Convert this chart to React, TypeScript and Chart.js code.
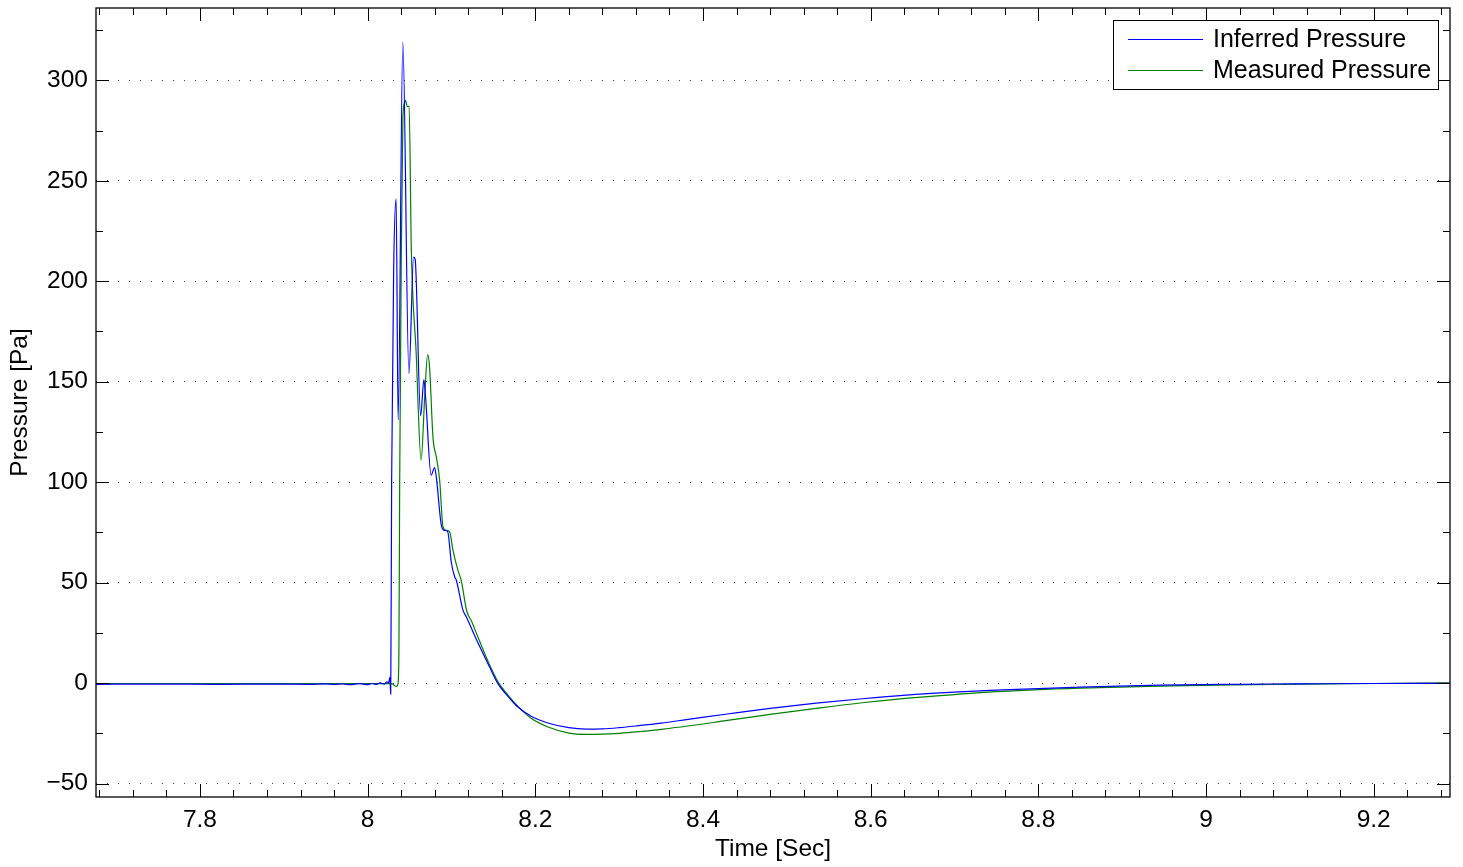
import React, { useEffect, useRef } from 'react';
import { Chart, registerables } from 'chart.js';

Chart.register(...registerables);

// ---- Data (time in seconds, pressure in Pa) ----
const inferredTime = [
  7.676, 7.75, 7.82, 7.89, 7.93, 7.95, 7.96, 7.97, 7.98, 7.99, 8.0, 8.005, 8.01, 8.015, 8.02, 8.023, 8.025,
  8.0265, 8.02755, 8.02862, 8.03101, 8.03399, 8.03637, 8.04198, 8.04925, 8.05486, 8.05665, 8.06321, 8.06714,
  8.06917, 8.07573, 8.0799, 8.08189, 8.08789, 8.09147, 8.09545, 8.09982, 8.10379, 8.10578, 8.11369, 8.11766,
  8.13, 8.1455, 8.155, 8.1693, 8.1789, 8.195, 8.216, 8.24, 8.26, 8.28, 8.3, 8.323, 8.35, 8.38, 8.429, 8.48,
  8.535, 8.59, 8.642, 8.7, 8.749, 8.85, 8.945, 9.03, 9.111, 9.2, 9.291,
];
const inferredPressure = [
  -0.6, -0.5, -0.6, -0.5, -0.6, -0.4, -0.7, -0.4, -0.8, -0.3, -0.8, -0.2, -0.7, 0.1, -0.5, 0.6, 0.2,
  2.8, -5.5, 100, 205, 241, 131, 319, 154, 212, 211, 133, 151,
  142, 103.5, 107.3, 102.6, 78.6, 76, 75.4, 60, 52.9, 51.2, 36.3, 33,
  21.4, 8, 0, -7.5, -11.8, -16.5, -20, -22.2, -22.9, -22.8, -22.2, -21.2, -19.9, -18.2, -15.4, -12.6,
  -10, -7.8, -6, -4.5, -3.5, -2.0, -1.0, -0.6, -0.4, -0.2, -0.1,
];

const measuredTime = [
  7.676, 7.8, 7.9, 8.0, 8.025, 8.0298, 8.0322, 8.0346, 8.0361, 8.0373, 8.0382, 8.0402, 8.0421, 8.0441,
  8.0453, 8.0471, 8.0495, 8.0521, 8.0578, 8.0638, 8.068, 8.0716, 8.0739, 8.0779, 8.0819, 8.0859, 8.0898,
  8.0939, 8.0978, 8.1018, 8.1078, 8.1117, 8.1181, 8.1237, 8.133, 8.1455, 8.155, 8.1693, 8.1813, 8.195,
  8.216, 8.24, 8.26, 8.28, 8.3, 8.323, 8.35, 8.38, 8.429, 8.48, 8.535, 8.59, 8.642, 8.7, 8.749, 8.85, 8.945,
  9.03, 9.111, 9.2, 9.291,
];
const measuredPressure = [
  -0.2, -0.2, -0.3, -0.2, -0.3, -0.4, -1.3, -1.6, -0.5, 15, 98, 216, 282, 289,
  290, 287, 287, 216, 165, 111, 142, 163.5, 157, 122.5, 112.6, 101, 78,
  76, 75.3, 66, 56, 51, 36, 31, 21.4, 9, 1, -7, -12.5, -17.5,
  -22, -24.9, -25.5, -25.4, -25.0, -24.2, -23.0, -21.5, -18.6, -15.6, -12.6, -9.8, -7.6, -5.7, -4.3, -2.5, -1.5,
  -0.9, -0.5, -0.2, 0.1,
];

const seriesLabels = ['Inferred Pressure', 'Measured Pressure'];
const seriesColors = ['#0000ff', '#008000'];

const xTickValues = [7.8, 8.0, 8.2, 8.4, 8.6, 8.8, 9.0, 9.2];
const xTickLabels = ['7.8', '8', '8.2', '8.4', '8.6', '8.8', '9', '9.2'];
const xMinorTickValues = [
  7.68, 7.72, 7.76, 7.84, 7.88, 7.92, 7.96, 8.04, 8.08, 8.12, 8.16, 8.24, 8.28, 8.32, 8.36,
  8.44, 8.48, 8.52, 8.56, 8.64, 8.68, 8.72, 8.76, 8.84, 8.88, 8.92, 8.96, 9.04, 9.08, 9.12, 9.16, 9.24, 9.28,
];
const yTickValues = [-50, 0, 50, 100, 150, 200, 250, 300];
const yTickLabels = ['\u221250', '0', '50', '100', '150', '200', '250', '300'];
const yMinorTickValues = [-25, 25, 75, 125, 175, 225, 275, 325];

const xTitle = 'Time [Sec]';
const yTitle = 'Pressure [Pa]';

const FONT = '"Liberation Sans", Arial, Helvetica, sans-serif';
const FONT_SIZE = 24.5;
const LEGEND_FONT_SIZE = 25;

const lookup = (values: number[], labels: string[], v: number) => {
  const i = values.findIndex((t) => Math.abs(t - v) < 1e-9);
  return i >= 0 ? labels[i] : '';
};

const framePlugin = {
  id: 'matlabFrame',
  afterDatasetsDraw(chart: any) {
    const { ctx, chartArea, scales } = chart;
    const { left, right, top, bottom } = chartArea;
    const xs = scales.x;
    const ys = scales.y;
    ctx.save();
    ctx.strokeStyle = '#000';
    ctx.lineWidth = 1;
    ctx.beginPath();
    const majorLen = 13;
    const minorLen = 7;
    const drawX = (v: number, len: number) => {
      const p = Math.round(xs.getPixelForValue(v)) + 0.5;
      ctx.moveTo(p, bottom);
      ctx.lineTo(p, bottom - len);
      ctx.moveTo(p, top);
      ctx.lineTo(p, top + len);
    };
    const drawY = (v: number, len: number) => {
      const p = Math.round(ys.getPixelForValue(v)) + 0.5;
      ctx.moveTo(left, p);
      ctx.lineTo(left + len, p);
      ctx.moveTo(right, p);
      ctx.lineTo(right - len, p);
    };
    xTickValues.forEach((v) => drawX(v, majorLen));
    xMinorTickValues.forEach((v) => drawX(v, minorLen));
    yTickValues.forEach((v) => drawY(v, majorLen));
    yMinorTickValues.forEach((v) => drawY(v, minorLen));
    ctx.stroke();
    ctx.lineWidth = 1.3;
    ctx.strokeRect(left, top, right - left, bottom - top);
    ctx.restore();
  },
  afterDraw(chart: any) {
    const { ctx, chartArea } = chart;
    ctx.save();
    ctx.font = `${LEGEND_FONT_SIZE}px ${FONT}`;
    const textW = Math.max(...seriesLabels.map((l) => ctx.measureText(l).width));
    const padL = 15;
    const lineLen = 75;
    const gap = 10;
    const padR = 7;
    const rowH = 31;
    const w = Math.round(padL + lineLen + gap + textW + padR);
    const h = 69;
    const bx = Math.round(chartArea.right - 12 - w);
    const by = Math.round(chartArea.top + 12);
    ctx.fillStyle = '#fff';
    ctx.fillRect(bx, by, w, h);
    ctx.strokeStyle = '#000';
    ctx.lineWidth = 1;
    ctx.strokeRect(bx + 0.5, by + 0.5, w, h);
    seriesLabels.forEach((label, i) => {
      const cy = by + 19 + i * rowH;
      ctx.strokeStyle = seriesColors[i];
      ctx.lineWidth = 1.2;
      ctx.beginPath();
      ctx.moveTo(bx + padL, cy + 0.5);
      ctx.lineTo(bx + padL + lineLen, cy + 0.5);
      ctx.stroke();
      ctx.fillStyle = '#000';
      ctx.textBaseline = 'middle';
      ctx.textAlign = 'left';
      ctx.fillText(label, bx + padL + lineLen + gap, cy + 1);
    });
    ctx.restore();
  },
};

export default function App() {
  const ref = useRef<HTMLCanvasElement>(null);
  useEffect(() => {
    document.body.style.margin = '0';
    const canvas = ref.current!;
    const font = { family: FONT, size: FONT_SIZE };
    const chart = new Chart(canvas, {
      type: 'line',
      data: {
        datasets: [
          {
            label: seriesLabels[0],
            data: inferredTime.map((t, i) => ({ x: t, y: inferredPressure[i] })),
            borderColor: seriesColors[0],
            borderWidth: 1.2,
            pointRadius: 0,
            fill: false,
            cubicInterpolationMode: 'monotone',
          },
          {
            label: seriesLabels[1],
            data: measuredTime.map((t, i) => ({ x: t, y: measuredPressure[i] })),
            borderColor: seriesColors[1],
            borderWidth: 1.2,
            pointRadius: 0,
            fill: false,
            cubicInterpolationMode: 'monotone',
          },
        ],
      },
      options: {
        responsive: false,
        animation: false,
        events: [],
        layout: { padding: { left: 0, right: 13, top: 8, bottom: 0 } },
        plugins: { legend: { display: false }, tooltip: { enabled: false } },
        scales: {
          x: {
            type: 'linear',
            min: 7.676,
            max: 9.291,
            afterBuildTicks: (s: any) => {
              s.ticks = xTickValues.map((v) => ({ value: v }));
            },
            afterFit: (s: any) => {
              s.height = 70;
              s.paddingLeft = 0;
              s.paddingRight = 0;
            },
            ticks: {
              callback: (v: any) => lookup(xTickValues, xTickLabels, Number(v)),
              font,
              color: '#000',
              padding: 9,
              maxRotation: 0,
              autoSkip: false,
            },
            grid: { display: false, drawTicks: false },
            border: { display: false },
            title: { display: true, text: xTitle, font, color: '#000', padding: { top: 0, bottom: 3 } },
          },
          y: {
            type: 'linear',
            min: -56.7,
            max: 336,
            afterBuildTicks: (s: any) => {
              s.ticks = yTickValues.map((v) => ({ value: v }));
            },
            afterFit: (s: any) => {
              s.width = 96;
              s.paddingTop = 0;
              s.paddingBottom = 0;
            },
            ticks: {
              callback: (v: any) => lookup(yTickValues, yTickLabels, Number(v)),
              font,
              color: '#000',
              padding: 8,
              autoSkip: false,
            },
            grid: { color: '#444', lineWidth: 1, drawTicks: false },
            border: { display: false, dash: [1, 10] },
            title: { display: true, text: yTitle, font, color: '#000', padding: { top: 6, bottom: 0 } },
          },
        },
      },
      plugins: [framePlugin],
    } as any);
    return () => chart.destroy();
  }, []);
  return <canvas ref={ref} width={1463} height={867} style={{ display: 'block' }} />;
}
